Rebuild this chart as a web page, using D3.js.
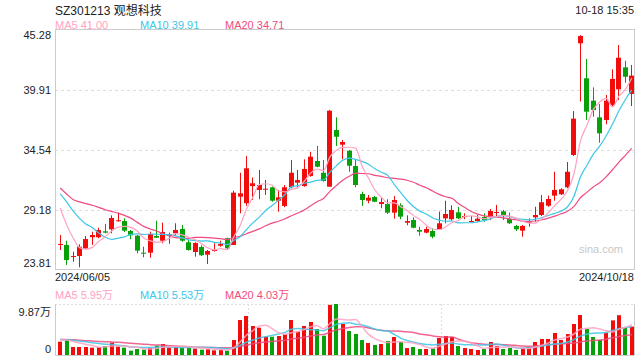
<!DOCTYPE html>
<html><head><meta charset="utf-8">
<script src="https://cdn.jsdelivr.net/npm/d3@7"></script>
<style>
html,body{margin:0;padding:0;background:#fff;}
svg{display:block;font-family:"Liberation Sans",Arial,"Noto Sans CJK SC",sans-serif;}
</style></head>
<body><svg id="c" width="640" height="360"></svg>
<script>
const title = "SZ301213 观想科技";
const timeText = "10-18 15:35";
const xLabels = ["2024/06/05", "2024/10/18"];
const yTicks = [23.81, 29.18, 34.54, 39.91, 45.28];
const volMax = 9.87;
const priceLegend = ["MA5 41.00", "MA10 39.91", "MA20 34.71"];
const volLegend = ["MA5 5.95万", "MA10 5.53万", "MA20 4.03万"];

const open = [26.05,26.05,25.00,25.06,25.72,26.74,26.74,27.27,27.45,28.19,
28.19,27.30,26.88,25.36,25.36,26.85,26.43,26.85,27.09,27.48,
26.29,25.42,25.87,25.18,25.54,25.98,26.65,26.05,30.37,29.78,
31.32,30.97,31.03,31.21,30.01,29.54,31.21,31.62,31.32,32.22,
33.56,32.51,31.26,36.33,35.02,34.48,33.11,30.61,30.01,30.34,
29.71,29.71,28.94,29.60,28.04,28.28,27.39,27.15,27.30,27.45,
28.43,28.35,28.97,28.58,28.10,28.19,28.55,28.58,28.94,29.06,
28.37,27.75,27.33,28.08,28.52,28.73,29.56,30.46,30.58,31.21,
34.10,44.09,40.96,38.96,37.47,37.23,38.57,39.98,41.94,39.56];
const close = [26.14,24.70,25.06,25.89,26.58,26.94,27.39,27.15,28.46,28.26,
27.33,26.91,25.54,25.30,27.03,26.70,27.21,27.00,27.39,26.43,
25.60,26.23,25.13,25.51,25.60,26.14,25.75,30.73,30.67,32.91,
31.57,31.41,31.08,30.01,30.31,31.21,32.51,31.86,32.85,33.95,
33.05,31.77,38.06,35.73,35.26,33.14,31.41,30.07,30.28,29.92,
29.89,28.94,30.07,28.58,28.19,27.59,27.24,27.48,26.79,27.99,
28.82,29.18,28.43,28.64,28.19,28.40,28.28,29.09,29.00,28.70,
27.99,27.45,27.75,28.13,28.73,29.87,30.16,30.97,31.03,32.60,
37.35,44.74,37.97,38.12,36.04,38.96,40.90,42.80,41.10,41.20];
const high = [26.94,26.43,25.45,26.11,26.85,27.24,27.59,27.93,28.70,28.94,
28.43,27.39,26.94,25.89,27.24,28.22,28.04,27.15,27.99,27.84,
26.49,26.29,26.02,25.60,26.20,26.43,26.70,30.90,32.51,34.01,
32.09,32.76,31.86,31.26,30.97,31.41,33.65,32.76,33.71,34.39,
34.90,33.65,38.12,37.47,35.44,34.55,33.65,30.81,30.52,30.43,
30.31,30.14,30.43,29.78,28.70,28.52,27.68,27.68,27.54,29.03,
30.01,29.60,29.47,28.88,28.64,28.73,28.88,29.27,29.63,29.18,
28.94,27.84,27.84,28.43,29.47,30.52,30.46,32.60,31.12,33.47,
38.03,44.83,42.69,40.15,38.66,39.47,41.76,43.94,42.53,42.15];
const low = [25.60,24.26,24.55,24.05,25.70,26.05,26.65,27.09,27.09,28.13,
27.21,26.56,25.30,24.95,24.91,26.67,26.20,26.16,26.85,26.34,
25.54,25.00,25.06,24.35,25.45,25.89,25.69,26.05,28.88,29.54,
30.07,30.14,30.52,29.92,29.03,29.42,31.12,31.12,31.26,32.16,
33.00,31.71,31.26,34.90,33.71,32.60,31.21,29.54,29.78,29.87,
29.33,28.82,28.40,28.35,27.81,27.54,26.88,27.09,26.65,27.39,
27.99,28.22,28.37,28.35,28.04,28.13,28.13,28.28,28.64,28.28,
27.93,27.30,26.79,27.68,28.13,28.64,29.47,30.01,30.52,31.12,
34.01,38.87,37.23,37.52,35.20,36.84,38.48,39.02,40.57,38.48];
const volume = [2.58,3.03,1.55,1.55,1.55,1.42,1.55,1.74,2.39,1.61,
1.42,0.84,1.16,1.03,1.42,1.81,2.13,1.48,1.61,1.42,
1.42,1.23,1.03,1.10,0.90,1.03,0.84,2.90,6.77,7.55,
5.61,5.29,3.55,3.55,3.68,4.00,6.77,4.52,5.61,6.39,
5.03,3.74,9.70,9.87,6.00,4.64,4.06,2.90,2.32,1.94,
2.13,2.71,3.48,2.52,1.35,1.55,1.16,1.16,1.29,3.29,
3.68,3.48,1.74,1.35,1.16,0.97,1.16,2.52,1.74,1.16,
1.35,0.97,1.35,1.55,2.52,3.10,3.10,4.26,2.90,4.06,
6.00,7.74,5.03,3.48,2.90,4.26,6.70,7.70,5.23,5.50];
// closes / volumes of the 19 sessions before the window (estimated from the MA lines)
const priorClose = [35.5,35.0,30.0,29.9,29.8,31.0,31.5,31.5,31.3,31.4,31.8,33.1,32.5,31.6,30.3,32.2,30.86,30.34,27.26];
const priorVolume = [3.0,3.1,3.2,3.0,2.9,3.1,3.0,3.2,2.9,3.0,3.1,3.0,2.9,3.0,3.1,3.2,3.0,2.9,3.0];

const C = {red:"#f20d0d", green:"#08a008", ma5:"#ffa2c2", ma10:"#3cc7e6", ma20:"#f04b80",
  border:"#cccccc", grid:"#dddddd", text:"#222222"};

const L = 55, R = 634, T = 30, B = 270, VT = 304, VB = 355;
const n = close.length;
const svg = d3.select("#c");

const x = d3.scaleBand().domain(d3.range(n)).range([57, 635]);
const cx = i => x(i) + x.bandwidth()/2;
const y = d3.scaleLinear().domain([yTicks[0], yTicks[yTicks.length-1]]).range([B, T]);
const yv = d3.scaleLinear().domain([0, volMax]).range([VB, VT]);

function ma(prior, arr, k){
  const full = prior.concat(arr), off = prior.length;
  return arr.map((_, i) => d3.mean(full.slice(i + off - k + 1, i + off + 1)));
}

// texts
svg.append("text").attr("x", L).attr("y", 15).attr("font-size", 12).attr("fill", C.text).text(title);
svg.append("text").attr("x", R).attr("y", 14).attr("text-anchor","end").attr("font-size", 11).attr("fill", C.text).text(timeText);
const legX = [L, 140, 225], legC = [C.ma5, C.ma10, C.ma20];
priceLegend.forEach((t,k)=>svg.append("text").attr("x", legX[k]).attr("y", 28.5).attr("font-size", 11).attr("fill", legC[k]).text(t));
volLegend.forEach((t,k)=>svg.append("text").attr("x", legX[k]).attr("y", 299).attr("font-size", 11).attr("fill", legC[k]).text(t));
svg.append("text").attr("x", L).attr("y", 281).attr("font-size", 11).attr("fill", C.text).text(xLabels[0]);
svg.append("text").attr("x", R).attr("y", 281).attr("text-anchor","end").attr("font-size", 11).attr("fill", C.text).text(xLabels[1]);

// price grid + axis labels
yTicks.forEach((v,k)=>{
  const yy = Math.round(y(v)) + 0.5;
  if (k>0 && k<yTicks.length-1)
    svg.append("line").attr("x1", L).attr("x2", R).attr("y1", yy).attr("y2", yy)
      .attr("stroke", C.grid).attr("stroke-dasharray","3,3");
  let ty = y(v) + 4;
  if (k===yTicks.length-1) ty = y(v) + 9;
  if (k===0) ty = y(v) - 3;
  svg.append("text").attr("x", 51).attr("y", ty).attr("text-anchor","end").attr("font-size", 11).attr("fill", C.text).text(v.toFixed(2));
});
svg.append("rect").attr("x", L+0.5).attr("y", T-0.5).attr("width", R-L).attr("height", B-T)
  .attr("fill","none").attr("stroke", C.border);

svg.append("text").attr("x", 623).attr("y", 253).attr("text-anchor","end").attr("font-size", 11).attr("fill", "#c8c8c8").text("sina.com");

// candles
const g = svg.append("g");
for (let i=0;i<n;i++){
  const up = close[i] >= open[i];
  const col = up ? C.red : C.green;
  const bx = Math.round(cx(i) - 2.5);
  g.append("line").attr("x1", bx+2.5).attr("x2", bx+2.5).attr("y1", y(high[i])).attr("y2", y(low[i])).attr("stroke", col);
  const top = y(Math.max(open[i], close[i])), bot = y(Math.min(open[i], close[i]));
  g.append("rect").attr("x", bx).attr("y", top).attr("width", 5).attr("height", Math.max(1, bot-top)).attr("fill", col);
}

// MA lines
const line = d3.line().x((d,i)=>cx(i)).y(d=>y(d)).curve(d3.curveMonotoneX);
[[20,C.ma20],[10,C.ma10],[5,C.ma5]].forEach(([k,col])=>{
  svg.append("path").attr("d", line(ma(priorClose, close, k))).attr("fill","none").attr("stroke", col).attr("stroke-width", 1.2);
});

// volume panel
svg.append("line").attr("x1", L).attr("x2", R).attr("y1", VT+0.5).attr("y2", VT+0.5).attr("stroke", C.grid).attr("stroke-dasharray","2,2");
[1,2].forEach(k=>{
  const xx = Math.round(L + (R-L)*k/3) + 0.5;
  svg.append("line").attr("x1", xx).attr("x2", xx).attr("y1", VT).attr("y2", VB).attr("stroke", C.grid).attr("stroke-dasharray","2,2");
});
svg.append("path").attr("d", `M${L+0.5},${VT}V${VB+0.5}H${R+0.5}V${VT}`).attr("fill","none").attr("stroke", C.border);
svg.append("text").attr("x", 51).attr("y", VT+12).attr("text-anchor","end").attr("font-size", 11).attr("fill", C.text).text(volMax.toFixed(2)+"万");
svg.append("text").attr("x", 51).attr("y", VB-2).attr("text-anchor","end").attr("font-size", 11).attr("fill", C.text).text("0");

for (let i=0;i<n;i++){
  const col = close[i] >= open[i] ? C.red : C.green;
  const bx = Math.round(cx(i) - 2);
  svg.append("rect").attr("x", bx).attr("y", yv(volume[i])).attr("width", 4).attr("height", VB - yv(volume[i])).attr("fill", col);
}
const vline = d3.line().x((d,i)=>cx(i)).y(d=>yv(d)).curve(d3.curveMonotoneX);
[[20,C.ma20],[10,C.ma10],[5,C.ma5]].forEach(([k,col])=>{
  svg.append("path").attr("d", vline(ma(priorVolume, volume, k))).attr("fill","none").attr("stroke", col).attr("stroke-width", 1.5).attr("opacity", 0.85);
});
</script></body></html>
